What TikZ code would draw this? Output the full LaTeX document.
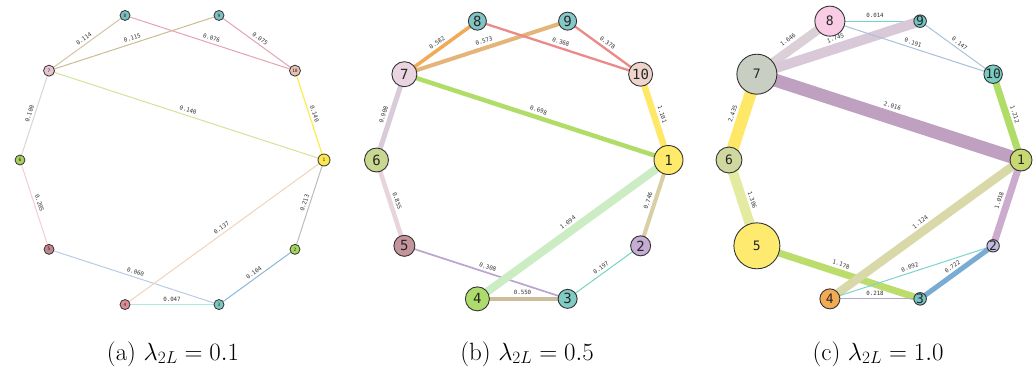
\documentclass[tikz,border=0pt]{standalone}
\usepackage{fontspec}
\newfontfamily\dvmono{DejaVu Sans Mono}
\usetikzlibrary{backgrounds}
\pgfdeclarelayer{edges}
\pgfsetlayers{background,edges,main}
% panel a colours
\definecolor{na1}{HTML}{FDE74C}\definecolor{na2}{HTML}{A8D65A}\definecolor{na3}{HTML}{7CC8BE}
\definecolor{na4}{HTML}{DC8C96}\definecolor{na5}{HTML}{C4868E}\definecolor{na6}{HTML}{A8D060}
\definecolor{na7}{HTML}{E8C4D0}\definecolor{na8}{HTML}{7ABFBF}\definecolor{na9}{HTML}{80C0C0}
\definecolor{na10}{HTML}{E8C0B4}
% panel b colours
\definecolor{nb1}{HTML}{FFEA6A}\definecolor{nb2}{HTML}{C4ACD4}\definecolor{nb3}{HTML}{80CCC4}
\definecolor{nb4}{HTML}{AEDC6C}\definecolor{nb5}{HTML}{C4949C}\definecolor{nb6}{HTML}{C8D890}
\definecolor{nb7}{HTML}{EAD4E0}\definecolor{nb8}{HTML}{80C4C4}\definecolor{nb9}{HTML}{84C8C8}
\definecolor{nb10}{HTML}{EED4CC}
% panel c colours
\definecolor{nc1}{HTML}{C8D870}\definecolor{nc2}{HTML}{C4BCE0}\definecolor{nc3}{HTML}{78C4C4}
\definecolor{nc4}{HTML}{F2AA54}\definecolor{nc5}{HTML}{FFEA70}\definecolor{nc6}{HTML}{D0D8A0}
\definecolor{nc7}{HTML}{C8CEC2}\definecolor{nc8}{HTML}{F8CCE4}\definecolor{nc9}{HTML}{74C4C4}
\definecolor{nc10}{HTML}{78CCC4}
\definecolor{bordc}{HTML}{333333}
\definecolor{labc}{HTML}{333333}
\tikzset{
  nd/.style={circle, draw=bordc, line width=0.9pt, inner sep=0pt, text=black!85},
  ndsmall/.style={nd, minimum size=10pt, font=\dvmono\fontsize{4.5}{5}\selectfont, line width=0.8pt},
  ndmid/.style={nd, font=\dvmono\fontsize{14}{16}\selectfont},
  ndbig/.style={nd, font=\dvmono\fontsize{13}{15}\selectfont},
  el/.style={sloped, above=2.2pt, inner sep=0.4pt, font=\dvmono\fontsize{5.8}{6}\selectfont, text=labc},
  ed/.style={line cap=butt},
  captext/.style={font=\fontsize{25}{28}\selectfont}
}
\begin{document}
\begin{tikzpicture}[x=1pt,y=-1pt]
\useasboundingbox (0,0) rectangle (1033,368);
\begin{pgfonlayer}{background}
\fill[white] (0,0) rectangle (1033,368);
\end{pgfonlayer}
% ---------------- panel a ----------------
\begin{scope}[shift={(172,160)}]
  \node[ndsmall, fill=na1, minimum size=12pt] (a1) at (0:152) {1};
  \node[ndsmall, fill=na2] (a2) at (36:152) {2};
  \node[ndsmall, fill=na3] (a3) at (72:152) {3};
  \node[ndsmall, fill=na4] (a4) at (108:152) {4};
  \node[ndsmall, fill=na5] (a5) at (144:152) {5};
  \node[ndsmall, fill=na6] (a6) at (180:152) {6};
  \node[ndsmall, fill=na7, minimum size=11pt] (a7) at (216:152) {7};
  \node[ndsmall, fill=na8] (a8) at (252:152) {8};
  \node[ndsmall, fill=na9] (a9) at (288:152) {9};
  \node[ndsmall, fill=na10, minimum size=11pt] (a10) at (324:152) {10};
  \begin{pgfonlayer}{edges}
    \draw[ed, line width=1pt, color={rgb,255:red,212;green,196;blue,168}] (a7.center) -- node[el]{0.114} (a8.center);
    \draw[ed, line width=1pt, color={rgb,255:red,205;green,187;blue,154}] (a7.center) -- node[el]{0.115} (a9.center);
    \draw[ed, line width=1pt, color={rgb,255:red,228;green,164;blue,176}] (a8.center) -- node[el]{0.076} (a10.center);
    \draw[ed, line width=1pt, color={rgb,255:red,228;green,164;blue,180}] (a9.center) -- node[el]{0.075} (a10.center);
    \draw[ed, line width=1pt, color={rgb,255:red,212;green,227;blue,154}] (a7.center) -- node[el]{0.140} (a1.center);
    \draw[ed, line width=1.2pt, color={rgb,255:red,255;green,235;blue,80}] (a10.center) -- node[el]{0.140} (a1.center);
    \draw[ed, line width=1pt, color={rgb,255:red,220;green,212;blue,212}] (a7.center) -- node[el]{0.100} (a6.center);
    \draw[ed, line width=1pt, color={rgb,255:red,244;green,204;blue,212}] (a6.center) -- node[el]{0.205} (a5.center);
    \draw[ed, line width=1pt, color={rgb,255:red,184;green,204;blue,228}] (a5.center) -- node[el]{0.060} (a3.center);
    \draw[ed, line width=1pt, color={rgb,255:red,180;green,234;blue,220}] (a4.center) -- node[el]{0.047} (a3.center);
    \draw[ed, line width=1pt, color={rgb,255:red,240;green,212;blue,188}] (a4.center) -- node[el]{0.137} (a1.center);
    \draw[ed, line width=1pt, color={rgb,255:red,188;green,188;blue,188}] (a1.center) -- node[el]{0.213} (a2.center);
    \draw[ed, line width=1pt, color={rgb,255:red,136;green,184;blue,220}] (a2.center) -- node[el]{0.104} (a3.center);
  \end{pgfonlayer}
\end{scope}
% ---------------- panel b ----------------
\begin{scope}[shift={(522.5,160)}]
  \node[ndmid, fill=nb1, minimum size=29pt] (b1) at (0:146) {1};
  \node[ndmid, fill=nb2, minimum size=20pt] (b2) at (36:146) {2};
  \node[ndmid, fill=nb3, minimum size=19pt] (b3) at (72:146) {3};
  \node[ndmid, fill=nb4, minimum size=24pt] (b4) at (108:146) {4};
  \node[ndmid, fill=nb5, minimum size=21pt] (b5) at (144:146) {5};
  \node[ndmid, fill=nb6, minimum size=24pt] (b6) at (180:146) {6};
  \node[ndmid, fill=nb7, minimum size=25pt] (b7) at (216:146) {7};
  \node[ndmid, fill=nb8, minimum size=18pt] (b8) at (252:146) {8};
  \node[ndmid, fill=nb9, minimum size=18pt] (b9) at (288:146) {9};
  \node[ndmid, fill=nb10, minimum size=24pt] (b10) at (324:146) {10};
  \begin{pgfonlayer}{edges}
    \draw[ed, line width=3.5pt, color={rgb,255:red,240;green,170;blue,88}] (b7.center) -- node[el]{0.582} (b8.center);
    \draw[ed, line width=4pt, color={rgb,255:red,228;green,180;blue,120}] (b7.center) -- node[el]{0.573} (b9.center);
    \draw[ed, line width=2.3pt, color={rgb,255:red,236;green,138;blue,136}] (b8.center) -- node[el]{0.368} (b10.center);
    \draw[ed, line width=2.3pt, color={rgb,255:red,236;green,136;blue,136}] (b9.center) -- node[el]{0.378} (b10.center);
    \draw[ed, line width=4.5pt, color={rgb,255:red,176;green,220;blue,104}] (b7.center) -- node[el]{0.698} (b1.center);
    \draw[ed, line width=6.5pt, color={rgb,255:red,255;green,232;blue,104}] (b10.center) -- node[el]{1.101} (b1.center);
    \draw[ed, line width=5pt, color={rgb,255:red,216;green,204;blue,216}] (b7.center) -- node[el]{0.908} (b6.center);
    \draw[ed, line width=4.5pt, color={rgb,255:red,232;green,212;blue,220}] (b6.center) -- node[el]{0.855} (b5.center);
    \draw[ed, line width=1.7pt, color={rgb,255:red,188;green,164;blue,208}] (b5.center) -- node[el]{0.308} (b3.center);
    \draw[ed, line width=8pt, color={rgb,255:red,204;green,236;blue,196}] (b4.center) -- node[el]{1.094} (b1.center);
    \draw[ed, line width=4pt, color={rgb,255:red,216;green,208;blue,164}] (b1.center) -- node[el]{0.746} (b2.center);
    \draw[ed, line width=1pt, color={rgb,255:red,120;green,212;blue,196}] (b2.center) -- node[el]{0.197} (b3.center);
    \draw[ed, line width=4pt, color={rgb,255:red,205;green,189;blue,156}] (b4.center) -- node[el]{0.550} (b3.center);
  \end{pgfonlayer}
\end{scope}
% ---------------- panel c ----------------
\begin{scope}[shift={(875,160)}]
  \node[ndbig, fill=nc1, minimum size=22pt] (c1) at (0:146) {1};
  \node[ndbig, fill=nc2, minimum size=10pt] (c2) at (36:146) {2};
  \node[ndbig, fill=nc3, minimum size=10pt] (c3) at (72:146) {3};
  \node[ndbig, fill=nc4, minimum size=20pt] (c4) at (108:146) {4};
  \node[ndbig, fill=nc5, minimum size=46pt] (c5) at (144:146) {5};
  \node[ndbig, fill=nc6, minimum size=26pt] (c6) at (180:146) {6};
  \node[ndbig, fill=nc7, minimum size=40pt] (c7) at (216:146) {7};
  \node[ndbig, fill=nc8, minimum size=30pt] (c8) at (252:146) {8};
  \node[ndbig, fill=nc9, minimum size=10pt] (c9) at (288:146) {9};
  \node[ndbig, fill=nc10, minimum size=18pt] (c10) at (324:146) {10};
  \begin{pgfonlayer}{edges}
    \draw[ed, line width=1pt, color={rgb,255:red,116;green,212;blue,204}] (c8.center) -- node[el]{0.014} (c9.center);
    \draw[ed, line width=9pt, color={rgb,255:red,220;green,208;blue,216}] (c7.center) -- node[el]{1.646} (c8.center);
    \draw[ed, line width=10pt, color={rgb,255:red,216;green,200;blue,216}] (c7.center) -- node[el]{1.745} (c9.center);
    \draw[ed, line width=1pt, color={rgb,255:red,168;green,192;blue,220}] (c8.center) -- node[el]{0.191} (c10.center);
    \draw[ed, line width=1pt, color={rgb,255:red,168;green,196;blue,220}] (c9.center) -- node[el]{0.147} (c10.center);
    \draw[ed, line width=13pt, color={rgb,255:red,192;green,160;blue,192}] (c7.center) -- node[el]{2.016} (c1.center);
    \draw[ed, line width=7pt, color={rgb,255:red,176;green,220;blue,104}] (c10.center) -- node[el]{1.212} (c1.center);
    \draw[ed, line width=12pt, color={rgb,255:red,255;green,232;blue,104}] (c7.center) -- node[el]{2.435} (c6.center);
    \draw[ed, line width=10pt, color={rgb,255:red,228;green,234;blue,160}] (c6.center) -- node[el]{1.306} (c5.center);
    \draw[ed, line width=7pt, color={rgb,255:red,188;green,220;blue,108}] (c5.center) -- node[el]{1.178} (c3.center);
    \draw[ed, line width=8.5pt, color={rgb,255:red,216;green,216;blue,168}] (c4.center) -- node[el]{1.124} (c1.center);
    \draw[ed, line width=7pt, color={rgb,255:red,204;green,172;blue,204}] (c1.center) -- node[el]{1.018} (c2.center);
    \draw[ed, line width=1pt, color={rgb,255:red,124;green,212;blue,204}] (c4.center) -- node[el]{0.092} (c2.center);
    \draw[ed, line width=5pt, color={rgb,255:red,120;green,172;blue,212}] (c2.center) -- node[el]{0.722} (c3.center);
    \draw[ed, line width=1pt, color={rgb,255:red,176;green,168;blue,208}] (c4.center) -- node[el]{0.218} (c3.center);
  \end{pgfonlayer}
\end{scope}
% ---------------- captions ----------------
\node[captext] (capa) at (173,354) {(a) $\lambda_{2L}=0.1$};
\node[captext] (capb) at (527,354) {(b) $\lambda_{2L}=0.5$};
\node[captext] (capc) at (878,354) {(c) $\lambda_{2L}=1.0$};
\end{tikzpicture}
\end{document}
